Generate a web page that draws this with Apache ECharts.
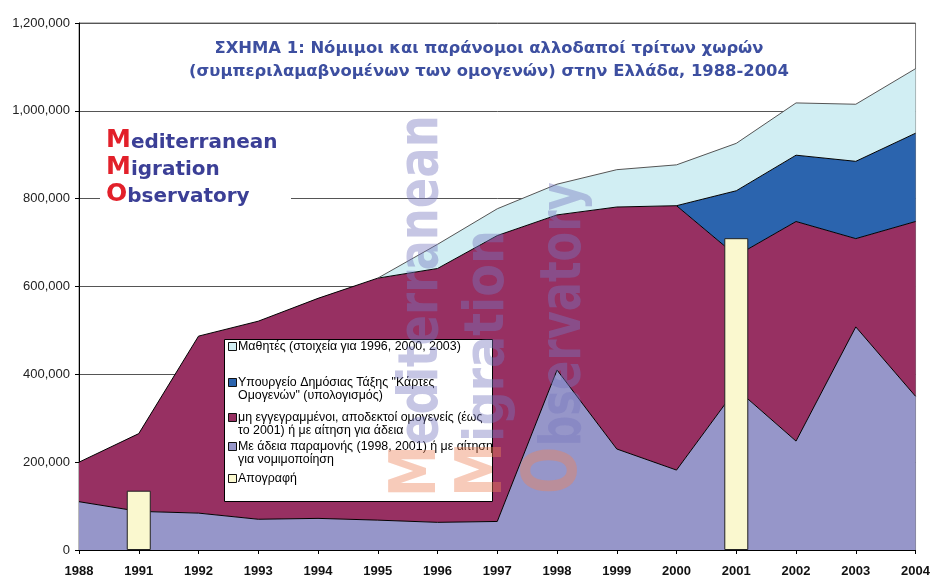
<!DOCTYPE html>
<html>
<head>
<meta charset="utf-8">
<script src="https://cdn.jsdelivr.net/npm/echarts@6/dist/echarts.min.js"></script>
<style>
  html, body { margin: 0; padding: 0; background: #fff; overflow: hidden; }
  #chart { width: 933px; height: 578px; }
</style>
</head>
<body>
<div id="chart"></div>
<script>
// categories (1989, 1990 are missing in the source)
const years = ['1988', '1991', '1992', '1993', '1994', '1995', '1996', '1997', '1998', '1999', '2000', '2001', '2002', '2003', '2004']

// stacked layers, bottom first
const permits = [110000, 88000, 84000, 70000, 72000, 68000, 63000, 65000, 410000, 230000, 182000, 367000, 248000, 508000, 350000]
const unregistered = [90000, 177000, 403000, 451000, 501000, 551000, 578000, 651000, 353000, 551000, 602000, 303000, 500000, 201000, 398000]
const ministryCards = [null, null, null, null, null, null, null, null, null, null, 0, 148000, 151000, 176000, 201000]
const pupils = [null, null, null, null, null, 0, 55000, 61000, 70000, 85000, 93000, 108000, 119000, 130000, 147000]
// census
const census = ['-', 135000, '-', '-', '-', '-', '-', '-', '-', '-', '-', 710000, '-', '-', '-']

const yTicks = [0, 200000, 400000, 600000, 800000, 1000000, 1200000]

const names = {
  pupils: 'Μαθητές (στοιχεία για 1996, 2000, 2003)',
  cards: 'Υπουργείο Δημόσιας Τάξης "Κάρτες\nΟμογενών" (υπολογισμός)',
  unreg: 'μη εγγεγραμμένοι, αποδεκτοί ομογενείς (έως\nτο 2001) ή με αίτηση για άδεια',
  permits: 'Με άδεια παραμονής (1998, 2001) ή με αίτηση\nγια νομιμοποίηση',
  census: 'Απογραφή'
}
const colors = {
  pupils: '#D1EEF3',
  cards: '#2B64AE',
  unreg: '#973062',
  permits: '#9696C9',
  census: '#FAF8CF'
}

function fmt (v) {
  return String(v).replace(/\B(?=(\d{3})+(?!\d))/g, ',')
}

function areaSeries (key, data, lineColor) {
  return {
    name: names[key],
    type: 'line',
    stack: 'total',
    symbol: 'none',
    z: 2,
    data: data,
    lineStyle: { color: lineColor, width: 1 },
    areaStyle: { color: colors[key], opacity: 1 },
    itemStyle: { color: colors[key] }
  }
}

// legend box (drawn by hand so the icons sit on the first line)
const legendKeys = ['pupils', 'cards', 'unreg', 'permits', 'census']
const legendRows = [347, 383, 418, 447, 479]
let overlay = [{
  type: 'rect',
  z: 100,
  shape: { x: 224.5, y: 339.5, width: 268, height: 162 },
  style: { fill: '#fff', stroke: '#000', lineWidth: 1 }
}]
legendKeys.forEach((k, i) => {
  overlay.push({
    type: 'rect',
    z: 101,
    shape: { x: 228.5, y: legendRows[i] - 4.5, width: 8, height: 8 },
    style: { fill: colors[k], stroke: '#111', lineWidth: 1 }
  })
  overlay.push({
    type: 'text',
    z: 101,
    x: 238,
    y: legendRows[i] - 7,
    style: {
      text: names[k],
      fill: '#000',
      font: '12.4px "Liberation Sans", Arial, sans-serif',
      lineHeight: 13,
      verticalAlign: 'top'
    }
  })
})

// vertical watermark words
function vertWord (x, y, cap, rest, capSize, restSize, sx, sy) {
  return {
    type: 'text',
    z: 110,
    silent: true,
    x: x,
    y: y,
    rotation: Math.PI / 2,
    scaleX: sx,
    scaleY: sy,
    style: {
      text: '{a|' + cap + '}{b|' + rest + '}',
      align: 'left',
      verticalAlign: 'bottom',
      rich: {
        a: { fontFamily: 'DejaVu Sans Condensed', fontWeight: 'bold', fontSize: capSize, fill: 'rgba(235,130,90,0.42)', verticalAlign: 'bottom' },
        b: { fontFamily: 'DejaVu Sans Condensed', fontWeight: 'bold', fontSize: restSize, fill: 'rgba(120,120,190,0.42)', verticalAlign: 'bottom' }
      }
    }
  }
}
overlay.push(vertWord(450, 497, 'M', 'editerranean', 58, 50, 1.0, 1.1))
overlay.push(vertWord(516, 497, 'M', 'igration', 58, 50, 1.06, 1.1))
overlay.push(vertWord(594, 494, 'O', 'bservatory', 62, 48, 1.0, 1.2))

const chart = echarts.init(document.getElementById('chart'), null, { renderer: 'canvas' })
chart.setOption({
  animation: false,
  backgroundColor: '#fff',
  title: {
    text: 'ΣΧΗΜΑ 1: Νόμιμοι και παράνομοι αλλοδαποί τρίτων χωρών\n(συμπεριλαμαβνομένων των ομογενών) στην Ελλάδα, 1988-2004',
    left: 484,
    top: 32,
    textAlign: 'center',
    textStyle: {
      fontFamily: 'DejaVu Sans',
      fontSize: 16.4,
      fontWeight: 'bold',
      color: '#3D4FA0',
      lineHeight: 23
    }
  },
  grid: {
    left: 79,
    right: 14,
    top: 23,
    bottom: 25,
    show: true,
    borderColor: '#777',
    borderWidth: 1,
    containLabel: false
  },
  xAxis: {
    type: 'category',
    data: years,
    boundaryGap: false,
    axisLine: { lineStyle: { color: '#000', width: 1 } },
    axisTick: { length: 4, lineStyle: { color: '#000' } },
    axisLabel: {
      margin: 15,
      fontFamily: 'Liberation Sans',
      fontSize: 13,
      fontWeight: 'bold',
      color: '#111'
    },
    splitLine: { show: false }
  },
  yAxis: {
    type: 'value',
    min: yTicks[0],
    max: yTicks[yTicks.length - 1],
    interval: yTicks[1] - yTicks[0],
    axisLine: { show: true, lineStyle: { color: '#000', width: 1 } },
    axisTick: { show: true, length: 4, lineStyle: { color: '#000' } },
    axisLabel: {
      margin: 9,
      fontFamily: 'Liberation Sans',
      fontSize: 13,
      color: '#222',
      formatter: fmt
    },
    splitLine: { lineStyle: { color: '#555', width: 1 } }
  },
  series: [
    areaSeries('permits', permits, '#000'),
    areaSeries('unreg', unregistered, '#000'),
    areaSeries('cards', ministryCards, '#000'),
    areaSeries('pupils', pupils, '#555'),
    {
      name: names.census,
      type: 'bar',
      z: 20,
      barWidth: 24,
      data: census,
      itemStyle: { color: colors.census, borderColor: '#222', borderWidth: 1 }
    }
  ],
  graphic: [
    // logo
    {
      type: 'rect',
      z: 50,
      shape: { x: 100, y: 124, width: 191, height: 92 },
      style: { fill: '#fff' }
    },
    {
      type: 'text',
      z: 51,
      x: 106,
      y: 126,
      style: {
        text: '{r|M}{b|editerranean}\n{r|M}{b|igration}\n{r|O}{b|bservatory}',
        verticalAlign: 'top',
        rich: {
          r: { fontFamily: 'DejaVu Sans', fontWeight: 'bold', fontSize: 25, fill: '#E2202A', lineHeight: 27, verticalAlign: 'bottom' },
          b: { fontFamily: 'DejaVu Sans', fontWeight: 'bold', fontSize: 20, fill: '#3B3F96', lineHeight: 27, verticalAlign: 'bottom' }
        }
      }
    }
  ].concat(overlay)
})
</script>
</body>
</html>
